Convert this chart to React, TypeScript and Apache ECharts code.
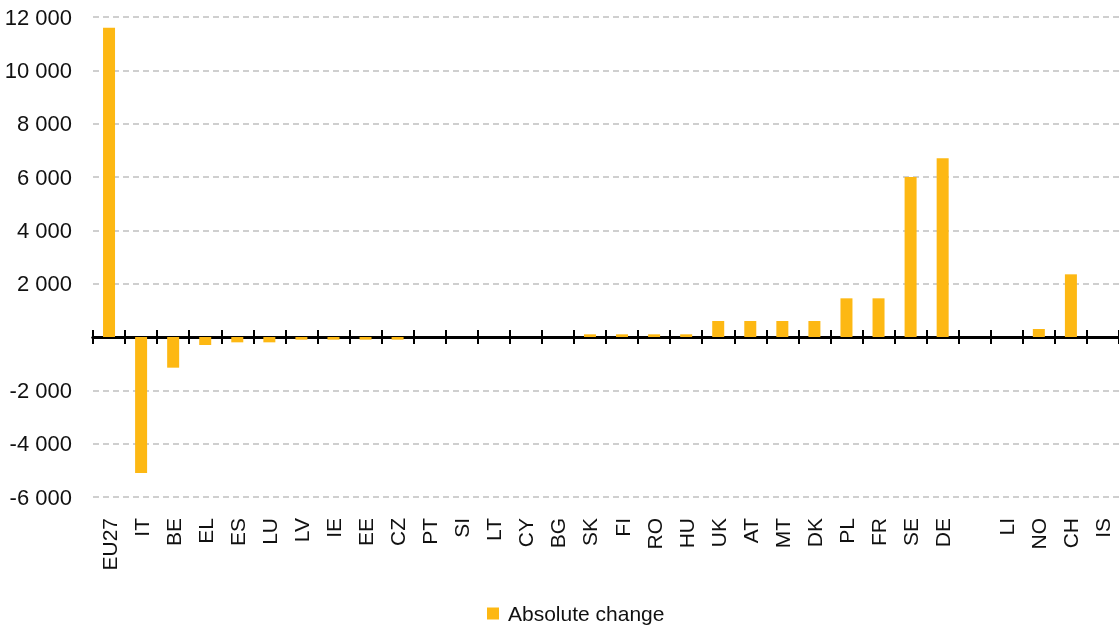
import React, { useEffect, useRef } from "react";
import * as echarts from "echarts";

const categories = ["EU27","IT","BE","EL","ES","LU","LV","IE","EE","CZ","PT","SI","LT","CY","BG","SK","FI","RO","HU","UK","AT","MT","DK","PL","FR","SE","DE","","LI","NO","CH","IS"];
const absoluteChange = [11600,-5100,-1150,-300,-200,-200,-100,-100,-100,-100,0,0,0,0,0,100,100,100,100,600,600,600,600,1450,1450,6000,6700,null,0,300,2350,0];
const yTicks = { min: -6000, max: 12000, interval: 2000 };

const FONT = '"Liberation Sans Narrow", "Arial Narrow", "Liberation Sans", Arial, sans-serif';
const BAR = "#FDB813";

export default function App() {
  const ref = useRef<HTMLDivElement>(null);
  useEffect(() => {
    const chart = echarts.init(ref.current!, null, { renderer: "svg" });
    chart.setOption({
      animation: false,
      grid: { left: 93, right: 0, top: 17, bottom: 133, containLabel: false },
      legend: {
        bottom: 1,
        left: 482,
        itemWidth: 12,
        itemHeight: 12,
        itemGap: 8,
        icon: "rect",
        textStyle: { fontFamily: FONT, fontSize: 21, color: "#111", padding: [0, 0, 0, 4] },
        data: ["Absolute change"],
      },
      xAxis: [
        {
          type: "category",
          data: categories,
          position: "bottom",
          axisLine: { show: false, onZero: false },
          axisTick: { show: false },
          axisLabel: { rotate: 90, fontFamily: FONT, fontSize: 21, color: "#111", margin: 21, interval: 0 },
        },
        {
          type: "category",
          data: categories,
          position: "bottom",
          axisLine: { show: true, onZero: true, onZeroAxisIndex: 0, lineStyle: { color: "#000", width: 3 } },
          axisTick: { show: true, inside: false, length: 7, lineStyle: { color: "#000", width: 2 }, interval: 0 },
          axisLabel: { show: false },
        },
        {
          type: "category",
          data: categories,
          position: "bottom",
          axisLine: { show: true, onZero: true, onZeroAxisIndex: 1, lineStyle: { color: "#000", width: 3 } },
          axisTick: { show: true, inside: true, length: 7, lineStyle: { color: "#000", width: 2 }, interval: 0 },
          axisLabel: { show: false },
        },
      ],
      yAxis: [
        {
          type: "value",
          min: yTicks.min,
          max: yTicks.max,
          interval: yTicks.interval,
          axisLine: { show: false },
          axisTick: { show: false },
          axisLabel: {
            fontFamily: FONT,
            fontSize: 22,
            color: "#111",
            margin: 21,
            formatter: (v: number) => {
              if (v === 0) return "";
              const s = Math.abs(v).toString();
              const t = s.length > 3 ? s.slice(0, s.length - 3) + " " + s.slice(s.length - 3) : s;
              return (v < 0 ? "-" : "") + t;
            },
          },
          splitLine: { show: true, lineStyle: { color: "#cfcfcf", width: 2, type: [6, 4] } },
        },
        {
          type: "value",
          min: yTicks.min,
          max: yTicks.max,
          interval: yTicks.interval,
          position: "left",
          axisLine: { show: false },
          axisTick: { show: false },
          axisLabel: { show: false },
          splitLine: { show: false },
        },
      ],
      series: [
        {
          name: "Absolute change",
          type: "bar",
          data: absoluteChange,
          barWidth: 12,
          xAxisIndex: 0,
          yAxisIndex: 0,
          itemStyle: { color: BAR },
        },
      ],
    });
    return () => chart.dispose();
  }, []);
  return <div ref={ref} style={{ position: "fixed", left: 0, top: 0, width: 1119, height: 630 }} />;
}
